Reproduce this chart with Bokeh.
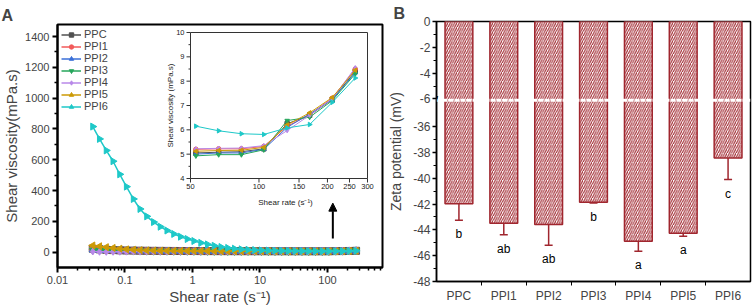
import math
from bokeh.plotting import figure
from bokeh.layouts import row
from bokeh.models import (Range1d, LogScale, LinearScale, FixedTicker, CustomJSTickFormatter,
                          Legend, LegendItem, Label, Arrow, NormalHead, Whisker, TeeHead,
                          ColumnDataSource, Span)
from bokeh.core.properties import value
from bokeh.embed import file_html
from bokeh.resources import INLINE

FONT = "Liberation Sans"

# ---------------- Panel A data ----------------
shear_rate = [0.0333, 0.0419, 0.0528, 0.0665, 0.0837, 0.105, 0.133, 0.167, 0.210, 0.265,
              0.333, 0.419, 0.528, 0.665, 0.837, 1.05, 1.33, 1.67, 2.10, 2.65,
              3.33, 4.19, 5.28, 6.65, 8.37, 10.5, 13.3, 16.7, 21.0, 26.5,
              33.3, 41.9, 52.8, 66.5, 83.7, 105, 133, 167, 210, 265]
ppc = [22, 18, 15, 13, 11.5, 10.5, 9.8, 9.2, 8.7, 8.3,
       8.0, 7.7, 7.4, 7.2, 7.0, 6.8, 6.6, 6.5, 6.3, 6.2,
       6.0, 5.9, 5.8, 5.7, 5.6, 5.5, 5.4, 5.35, 5.3, 5.2,
       5.15, 5.1, 5.05, 5.08, 5.10, 5.22, 6.25, 6.60, 7.25, 8.40]
ppi1 = [18, 15, 13, 11, 10, 9.3, 8.7, 8.2, 7.8, 7.5,
        7.2, 7.0, 6.8, 6.6, 6.4, 6.3, 6.2, 6.0, 5.9, 5.8,
        5.7, 5.6, 5.55, 5.5, 5.45, 5.4, 5.35, 5.3, 5.28, 5.25,
        5.23, 5.21, 5.20, 5.22, 5.22, 5.32, 6.15, 6.62, 7.30, 8.50]
ppi2 = [15, 12.5, 10.8, 9.6, 8.8, 8.2, 7.7, 7.3, 7.0, 6.7,
        6.5, 6.3, 6.1, 6.0, 5.9, 5.8, 5.7, 5.6, 5.5, 5.45,
        5.4, 5.35, 5.3, 5.25, 5.2, 5.15, 5.12, 5.1, 5.08, 5.06,
        5.04, 5.02, 5.00, 5.05, 5.05, 5.20, 6.10, 6.65, 7.25, 8.35]
ppi3 = [12, 10.5, 9.4, 8.6, 8.0, 7.5, 7.1, 6.8, 6.5, 6.3,
        6.1, 5.95, 5.8, 5.7, 5.6, 5.5, 5.42, 5.35, 5.28, 5.22,
        5.17, 5.12, 5.08, 5.05, 5.02, 5.0, 4.98, 4.97, 4.96, 4.95,
        4.94, 4.93, 4.93, 4.98, 4.98, 5.18, 6.38, 6.52, 7.20, 8.30]
ppi4 = [4.0, 2.0, 1.5, 2.0, 2.5, 3.0, 3.5, 3.8, 4.0, 4.2,
        4.3, 4.4, 4.5, 4.6, 4.7, 4.8, 4.85, 4.9, 4.95, 5.0,
        5.02, 5.05, 5.08, 5.1, 5.12, 5.14, 5.16, 5.18, 5.19, 5.2,
        5.21, 5.22, 5.22, 5.24, 5.25, 5.35, 5.97, 6.60, 7.28, 8.55]
ppi5 = [43, 38, 32, 27, 22, 18, 15, 12.8, 11.2, 10.0,
        9.2, 8.6, 8.1, 7.7, 7.4, 7.1, 6.8, 6.6, 6.4, 6.2,
        6.0, 5.9, 5.8, 5.7, 5.6, 5.5, 5.42, 5.35, 5.28, 5.22,
        5.17, 5.14, 5.12, 5.15, 5.16, 5.28, 6.20, 6.70, 7.33, 8.45]
ppi6 = [815, 735, 660, 590, 505, 425, 345, 280, 232, 195,
        165, 140, 118, 100, 85, 72, 60, 50, 41, 33,
        27, 22, 18, 15, 13, 11.2, 10.0, 9.0, 8.2, 7.6,
        7.1, 6.6, 6.15, 5.96, 5.84, 5.81, 6.08, 6.22, 7.13, 8.13]

series_names = ["PPC", "PPI1", "PPI2", "PPI3", "PPI4", "PPI5", "PPI6"]
series_values = [ppc, ppi1, ppi2, ppi3, ppi4, ppi5, ppi6]
series_colors = ["#505050", "#f25a5a", "#3a6fd8", "#26a65b", "#b888e8", "#cc9a06", "#1ec8c8"]
series_markers = ["square", "circle", "triangle", "inverted_triangle", "diamond", "triangle", "triangle"]
series_angles = [0, 0, 0, 0, 0, math.pi / 2, -math.pi / 2]

main_x_ticks = [0.01, 0.1, 1, 10, 100]
main_y_ticks = [0, 200, 400, 600, 800, 1000, 1200, 1400]
inset_from = 50
inset_x_ticks = [50, 100, 150, 200, 250, 300]
inset_y_ticks = [4, 5, 6, 7, 8, 9, 10]

# ---------------- Panel B data ----------------
zeta_cats = ["PPC", "PPI1", "PPI2", "PPI3", "PPI4", "PPI5", "PPI6"]
zeta_mean = [-41.98, -43.48, -43.59, -41.86, -44.88, -44.26, -38.42]
zeta_sd = [1.27, 0.89, 1.6, 0.05, 0.78, 0.23, 1.68]
zeta_letters = ["b", "ab", "ab", "b", "a", "a", "c"]
zeta_ticks_top = [0, -2, -4, -6]
zeta_ticks_bottom = [-36, -38, -40, -42, -44, -46, -48]

# ================= Panel A =================
A_L, A_R, A_T, A_B = 57, 3, 24, 41
A_W, A_H = 385, 308
FW, FH = A_W - A_L - A_R, A_H - A_T - A_B

pA = figure(width=A_W, height=A_H, x_axis_type="log",
            x_range=Range1d(0.01, 653), y_range=Range1d(-100, 1478),
            min_border_left=A_L, min_border_right=A_R, min_border_top=A_T, min_border_bottom=A_B,
            output_backend="svg", toolbar_location=None, tools="", title="A")
pA.frame_align = False
pA.title.align = "left"
pA.title.offset = -56
pA.title.standoff = 2
pA.title.text_font = FONT
pA.title.text_font_size = "16px"
pA.title.text_font_style = "bold"
pA.grid.visible = False
pA.outline_line_color = "black"
pA.outline_line_width = 2

# inset coordinate system (pixel placement of the inset box inside the frame)
ix_px0, ix_px1 = 190 - A_L, 367 - A_L
iy_px_lo, iy_px_hi = 178 - A_T, 32 - A_T
s_ix = (ix_px1 - ix_px0) / (math.log10(300) - math.log10(50))
s_iy = (iy_px_lo - iy_px_hi) / (10 - 4)
ix_start = 10 ** (math.log10(50) - ix_px0 / s_ix)
ix_end = 10 ** (math.log10(50) + (FW - ix_px0) / s_ix)
iy_start = 4 - (FH - iy_px_lo) / s_iy
iy_end = 10 + iy_px_hi / s_iy
pA.extra_x_ranges = {"ix": Range1d(ix_start, ix_end)}
pA.extra_x_scales = {"ix": LogScale()}
pA.extra_y_ranges = {"iy": Range1d(iy_start, iy_end)}
pA.extra_y_scales = {"iy": LinearScale()}

for ax in (pA.xaxis[0], pA.yaxis[0]):
    ax.axis_line_width = 2
    ax.major_tick_line_width = 2
    ax.minor_tick_line_width = 1.5
    ax.major_tick_in = 0
    ax.major_tick_out = 5
    ax.minor_tick_in = 0
    ax.minor_tick_out = 3
    ax.major_label_text_font = FONT
    ax.major_label_text_font_size = "11px"
    ax.axis_label_text_font = FONT
    ax.axis_label_text_font_size = "15px"
    ax.axis_label_text_font_style = "normal"

minor_x = [k * 10 ** e for e in range(-2, 3) for k in range(2, 10) if k * 10 ** e < 653]
pA.xaxis[0].ticker = FixedTicker(ticks=main_x_ticks, minor_ticks=minor_x)
pA.xaxis[0].formatter = CustomJSTickFormatter(code="return tick.toString();")
pA.xaxis[0].axis_label = "Shear rate (s⁻¹)"
pA.xaxis[0].major_label_standoff = 3
pA.xaxis[0].axis_label_standoff = 1
pA.yaxis[0].ticker = FixedTicker(ticks=main_y_ticks,
                                 minor_ticks=[t + 100 for t in main_y_ticks[:-1]])
pA.yaxis[0].axis_label = "Shear viscosity(mPa.s)"
pA.yaxis[0].major_label_standoff = 3
pA.yaxis[0].axis_label_standoff = 2

items = []
for name, ys, col, mk, ang in zip(series_names, series_values, series_colors, series_markers, series_angles):
    r1 = pA.line(shear_rate, ys, line_color=col, line_width=1.5)
    r2 = pA.scatter(shear_rate, ys, marker=mk, angle=ang, size=7, fill_color=col, line_color=col)
    items.append(LegendItem(label=name, renderers=[r1, r2]))

leg = Legend(items=items, location="top_left", margin=0, padding=4, spacing=0,
             glyph_width=20, glyph_height=11, label_height=11, label_standoff=3,
             label_text_font=FONT, label_text_font_size="11px",
             border_line_alpha=0, background_fill_alpha=0)
pA.add_layout(leg)

# inset
ins_idx = [i for i, x in enumerate(shear_rate) if x >= inset_from]
ins_x = [shear_rate[i] for i in ins_idx]
for ys, col, mk, ang in zip(series_values, series_colors, series_markers, series_angles):
    iys = [ys[i] for i in ins_idx]
    pA.line(ins_x, iys, line_color=col, line_width=1, x_range_name="ix", y_range_name="iy")
    pA.scatter(ins_x, iys, marker=mk, angle=ang, size=4.5, fill_color=col, line_color=col,
               x_range_name="ix", y_range_name="iy")

xl, xr = inset_x_ticks[0], inset_x_ticks[-1]
yb, yt = inset_y_ticks[0], inset_y_ticks[-1]
pA.line([xl, xr, xr, xl, xl], [yb, yb, yt, yt, yb], line_color="#333333", line_width=1,
        x_range_name="ix", y_range_name="iy")


def ix_shift(v, px):
    return v * 10 ** (px / s_ix)


def iy_shift(v, px):
    return v - px / s_iy


pA.segment(x0=[xl] * len(inset_y_ticks), y0=inset_y_ticks,
           x1=[ix_shift(xl, -4)] * len(inset_y_ticks), y1=inset_y_ticks,
           line_color="#333333", line_width=1, x_range_name="ix", y_range_name="iy")
iy_minor = [t + 0.5 for t in inset_y_ticks[:-1]]
pA.segment(x0=[xl] * len(iy_minor), y0=iy_minor, x1=[ix_shift(xl, -2)] * len(iy_minor), y1=iy_minor,
           line_color="#333333", line_width=1, x_range_name="ix", y_range_name="iy")
pA.segment(x0=inset_x_ticks, y0=[yb] * len(inset_x_ticks), x1=inset_x_ticks,
           y1=[iy_shift(yb, 4)] * len(inset_x_ticks),
           line_color="#333333", line_width=1, x_range_name="ix", y_range_name="iy")
pA.text(x=[xl] * len(inset_y_ticks), y=inset_y_ticks, text=[str(t) for t in inset_y_ticks],
        x_offset=-6, text_align="right", text_baseline="middle", text_font=value(FONT),
        text_font_size="7.5px", text_color="#222222", x_range_name="ix", y_range_name="iy")
pA.text(x=inset_x_ticks, y=[yb] * len(inset_x_ticks), text=[str(t) for t in inset_x_ticks],
        y_offset=5, text_align="center", text_baseline="top", text_font=value(FONT),
        text_font_size="7.5px", text_color="#222222", x_range_name="ix", y_range_name="iy")
pA.text(x=[ix_shift(xl, 95)], y=[yb], text=["Shear rate (s⁻¹)"], y_offset=24,
        text_align="center", text_baseline="middle", text_font=value(FONT),
        text_font_size="8px", text_color="#222222", x_range_name="ix", y_range_name="iy")
pA.text(x=[xl], y=[7], text=["Shear viscosity (mPa.s)"], x_offset=-20, angle=math.pi / 2,
        text_align="center", text_baseline="middle", text_font=value(FONT),
        text_font_size="8px", text_color="#222222", x_range_name="ix", y_range_name="iy")

pA.add_layout(Arrow(end=NormalHead(size=8, fill_color="black", line_color="black"),
                    x_start=120, y_start=88, x_end=120, y_end=318,
                    line_color="black", line_width=2))

# ================= Panel B =================
OFF = 27.85
BRK = -6.05


def disp(v):
    return v if v >= BRK else v + OFF


B_L, B_R, B_T, B_B = 50, 4, 21, 27
B_W, B_H = 754 - A_W, 308
red = "#a0262e"

pB = figure(width=B_W, height=B_H, x_range=Range1d(0.5, 7.5), y_range=Range1d(disp(-48), 0),
            min_border_left=B_L, min_border_right=B_R, min_border_top=B_T, min_border_bottom=B_B,
            output_backend="svg", toolbar_location=None, tools="", title="B")
pB.frame_align = False
pB.title.align = "left"
pB.title.offset = -43
pB.title.standoff = 0
pB.title.text_font = FONT
pB.title.text_font_size = "16px"
pB.title.text_font_style = "bold"
pB.grid.visible = False
pB.outline_line_color = "black"
pB.outline_line_width = 1.5

xs = list(range(1, len(zeta_cats) + 1))
pB.vbar(x=xs, top=0, bottom=[disp(m) for m in zeta_mean], width=0.62,
        fill_color="white", line_color=red, line_width=1.5,
        hatch_pattern="/", hatch_color=red, hatch_scale=4.5, hatch_weight=1.1)

src = ColumnDataSource(dict(x=xs,
                            upper=[disp(m + s) for m, s in zip(zeta_mean, zeta_sd)],
                            lower=[disp(m - s) for m, s in zip(zeta_mean, zeta_sd)]))
pB.add_layout(Whisker(base="x", upper="upper", lower="lower", source=src,
                      line_color=red, line_width=1.5,
                      upper_head=TeeHead(size=8, line_color=red, line_width=1.5),
                      lower_head=TeeHead(size=8, line_color=red, line_width=1.5)))

pB.text(x=xs, y=[disp(m - s) for m, s in zip(zeta_mean, zeta_sd)], text=zeta_letters,
        y_offset=14, text_align="center", text_baseline="middle",
        text_font=value(FONT), text_font_size="12px", text_color="black")

pB.add_layout(Span(location=-6.1, dimension="width", line_color="white", line_width=3,
                   line_dash="5 1"))
pB.add_layout(Label(x=0, y=-6.1, x_units="screen", y_units="data", text="/",
                    text_align="center", text_baseline="middle", text_font=FONT,
                    text_font_size="11px", text_font_style="bold", text_color="black"))

yax = pB.yaxis[0]
yax.ticker = FixedTicker(ticks=[disp(t) for t in zeta_ticks_top + zeta_ticks_bottom],
                         minor_ticks=[disp(t) for t in [-1, -3, -5, -37, -39, -41, -43, -45, -47]])
yax.formatter = CustomJSTickFormatter(args=dict(off=OFF, brk=BRK),
                                      code="const v = tick < brk ? tick - off : tick; return Math.round(v).toString();")
yax.axis_label = "Zeta potential (mV)"
yax.axis_label_standoff = 6
yax.major_label_standoff = 2

xax = pB.xaxis[0]
xax.ticker = FixedTicker(ticks=xs, minor_ticks=[x + 0.5 for x in xs[:-1]])
xax.formatter = CustomJSTickFormatter(args=dict(names=zeta_cats),
                                      code="return names[Math.round(tick) - 1];")
xax.major_tick_out = 0
xax.major_label_standoff = 3

for ax in (xax, yax):
    ax.axis_line_width = 1.5
    ax.major_tick_line_width = 1.5
    ax.minor_tick_line_width = 1
    ax.major_tick_in = 0
    ax.minor_tick_in = 0
    ax.minor_tick_out = 3
    ax.major_label_text_font = FONT
    ax.major_label_text_font_size = "12px"
    ax.axis_label_text_font = FONT
    ax.axis_label_text_font_size = "14px"
    ax.axis_label_text_font_style = "normal"
yax.major_tick_out = 4
xax.minor_tick_out = 4

layout = row(pA, pB)
open("out.html", "w").write(file_html(layout, INLINE))
